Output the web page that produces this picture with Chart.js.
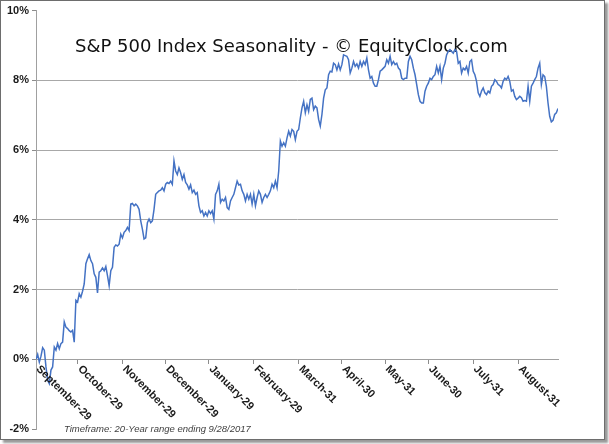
<!DOCTYPE html>
<html>
<head>
<meta charset="utf-8">
<script src="https://cdn.jsdelivr.net/npm/chart.js@4.4.1/dist/chart.umd.min.js"></script>
<style>
  body { margin: 0; background: #fff; }
  #wrap {
    position: absolute; left: 0; top: 0;
    width: 603px; height: 438px;
    border: 1px solid #6d6d6d;
    box-shadow: 3px 3px 2px #9a9a9a;
    background: #fff;
  }
  canvas { display: block; }
</style>
</head>
<body>
<div id="wrap"><canvas id="chart" width="603" height="438"></canvas></div>
<script>
// average % gain from Sep-29 (one value per trading day, roughly)
var seasonal = [
  0.0, 0.14, -0.08, 0.09, 0.33, 0.26, -0.22, -0.6, -0.7, -0.31,
  -0.22, 0.35, 0.26, 0.45, 0.3, 0.45, 0.49, 1.07, 0.92, 0.88,
  0.82, 0.78, 0.83, 0.49, 1.69, 1.64, 1.88, 1.78, 1.95, 2.16,
  2.74, 2.88, 3.0, 2.83, 2.74, 2.45, 2.35, 1.9, 2.5, 2.54,
  2.62, 2.54, 2.66, 2.4, 2.11, 2.54, 2.64, 3.21, 3.28, 3.25,
  3.3, 3.59, 3.48, 3.64, 3.69, 3.78, 3.69, 4.45, 4.47, 4.4,
  4.45, 4.4, 4.3, 3.97, 3.73, 3.45, 3.48, 3.92, 4.02, 3.92,
  3.97, 4.3, 4.73, 4.78, 4.83, 4.85, 4.92, 4.83, 5.02, 5.07,
  5.04, 5.11, 5.02, 5.69,
  5.4, 5.3, 5.49, 5.35, 5.16, 5.3, 5.07, 5.0, 4.88, 5.0,
  4.78, 4.85, 4.73, 4.78, 4.4, 4.21, 4.26, 4.11, 4.21, 4.11,
  4.26, 4.18, 4.26, 4.02, 4.73, 4.83, 5.02, 4.5, 4.59, 4.54,
  4.64, 4.35, 4.3, 4.54, 4.64, 4.73, 4.92, 5.11, 5.0, 5.02,
  4.83, 4.73, 4.54, 4.73, 4.59, 4.73, 4.45, 4.73, 4.4, 4.64,
  4.83, 4.73, 4.5, 4.64, 4.73, 4.64, 4.73, 4.83, 5.02, 4.92,
  5.11, 4.92, 5.4, 6.26, 6.11, 6.21, 6.11, 6.35, 6.54, 6.4,
  6.59, 6.54, 6.3, 6.54, 6.59,
  6.92, 7.21, 7.4, 7.07, 7.3, 7.11, 7.45, 7.49, 7.16, 7.26,
  7.21, 6.88, 6.69, 7.02, 7.49, 7.73, 7.78, 8.16, 8.26, 8.24,
  8.49, 8.45, 8.3, 8.47, 8.3, 8.45, 8.73, 8.71, 8.69, 8.59,
  8.21, 8.35, 8.54, 8.4, 8.47, 8.35, 8.54, 8.4, 8.54, 8.45,
  8.64, 8.3, 8.06, 8.11, 7.92, 7.83, 7.83, 8.02, 8.26, 8.3,
  8.35, 8.4, 8.59, 8.49, 8.69, 8.45, 8.54, 8.45, 8.49, 8.35,
  8.3, 8.06, 8.02, 8.06, 8.06, 8.54, 8.69, 8.59, 8.35, 8.16,
  7.88, 7.59, 7.4, 7.35, 7.35, 7.69, 7.83, 7.92, 8.06, 8.02,
  8.11, 8.16,
  8.4, 8.21, 8.4, 8.02, 8.35, 8.49, 8.73, 8.83, 8.88, 8.83,
  8.78, 8.88, 8.83, 8.49, 8.54, 8.21, 8.35, 8.3, 8.4, 8.21,
  8.54, 8.59, 8.26, 8.16, 7.97, 7.64, 7.54, 7.69, 7.78, 7.64,
  7.59, 7.69, 7.64, 7.83, 7.88, 8.02, 7.97, 7.88, 7.85, 7.78,
  7.97, 8.06, 8.02, 8.11, 7.97, 7.69, 7.73, 7.54, 7.45, 7.49,
  7.54, 7.5, 7.4, 7.42, 7.4, 7.83, 7.4, 7.83, 7.92, 8.02,
  8.11, 8.35, 8.49, 7.88, 8.16, 8.11, 7.83, 7.35, 6.97, 6.81,
  6.85, 7.02, 7.07, 7.19
];

var monthLabels = ['September-29', 'October-29', 'November-29', 'December-29', 'January-29', 'February-29',
                   'March-31', 'April-30', 'May-31', 'June-30', 'July-31', 'August-31'];
var monthTickIdx = [0, 25, 52, 78, 104, 131, 158, 184, 210, 236, 263, 290];

var yTicks = [-2, 0, 2, 4, 6, 8, 10];

var title = 'S&P 500 Index Seasonality - \u00a9 EquityClock.com';
var footnote = 'Timeframe: 20-Year range ending 9/28/2017';

var points = seasonal.map(function(v, i){ return {x: i, y: v}; });

var textPlugin = {
    id: 'texts',
    beforeDatasetsDraw: function(chart){
        var ctx = chart.ctx;
        ctx.save();
        ctx.fillStyle = '#111';
        ctx.font = '20px "DejaVu Sans", Verdana, sans-serif';
        var w = ctx.measureText(title).width;
        var size = 20 * 433 / w;
        ctx.font = size + 'px "DejaVu Sans", Verdana, sans-serif';
        ctx.textBaseline = 'middle';
        ctx.textAlign = 'left';
        ctx.fillText(title, 74, 46);
        ctx.restore();
    },
    afterDraw: function(chart){
        var ctx = chart.ctx;
        var xs = chart.scales.x, ys = chart.scales.y;
        var y0 = ys.getPixelForValue(0);
        ctx.save();
        ctx.font = 'bold 11px "Liberation Sans", Arial, sans-serif';
        ctx.fillStyle = '#1a1a1a';
        ctx.textAlign = 'left';
        ctx.textBaseline = 'middle';
        monthTickIdx.forEach(function(v, i){
            var x = xs.getPixelForValue(v);
            ctx.save();
            ctx.translate(x + 2, y0 + 8);
            ctx.rotate(Math.PI / 4);
            ctx.fillText(monthLabels[i], 0, 0);
            ctx.restore();
        });
        ctx.font = 'italic 9.5px "Liberation Sans", Arial, sans-serif';
        ctx.fillStyle = '#404040';
        ctx.fillText(footnote, 63, 428);
        ctx.restore();
    }
};

function drawChart(){
    var ctx = document.getElementById('chart');
    Chart.defaults.font.family = '"Liberation Sans", Arial, sans-serif';

    var myChart = new Chart(ctx, {
        type: 'line',
        data: {
            datasets: [{
                label: 'S&P 500',
                data: points,
                borderColor: '#4472c4',
                borderWidth: 1.5,
                pointRadius: 0,
                tension: 0,
                fill: false
            }]
        },
        options: {
            responsive: false,
            animation: false,
            layout: { padding: { top: 9, bottom: 10, right: 46, left: 0 } },
            plugins: {
                legend: { display: false },
                tooltip: { enabled: false },
                title: { display: false }
            },
            scales: {
                x: {
                    type: 'linear',
                    position: { y: 0 },
                    min: 0,
                    max: seasonal.length - 1,
                    afterBuildTicks: function(scale){
                        scale.ticks = monthTickIdx.map(function(v){ return {value: v}; });
                    },
                    ticks: { display: false },
                    grid: { drawOnChartArea: false, drawTicks: true, tickLength: 4, color: '#8c8c8c' },
                    border: { display: true, color: '#a0a0a0', width: 1 }
                },
                y: {
                    min: -2,
                    max: 10,
                    afterBuildTicks: function(scale){
                        scale.ticks = yTicks.map(function(v){ return {value: v}; });
                    },
                    afterFit: function(scale){ scale.width = 35; },
                    ticks: {
                        padding: 3,
                        color: '#1a1a1a',
                        font: { size: 11, weight: 'bold' },
                        callback: function(v){ return v + '%'; }
                    },
                    grid: {
                        color: function(c){
                            return (c.tick && (c.tick.value === 10 || c.tick.value === -2)) ? 'rgba(0,0,0,0)' : '#a8a8a8';
                        },
                        tickColor: '#8c8c8c',
                        tickLength: 4,
                        lineWidth: 1
                    },
                    border: { display: true, color: '#a0a0a0', width: 1 }
                }
            }
        },
        plugins: [textPlugin]
    });
}

drawChart();
</script>
</body>
</html>
